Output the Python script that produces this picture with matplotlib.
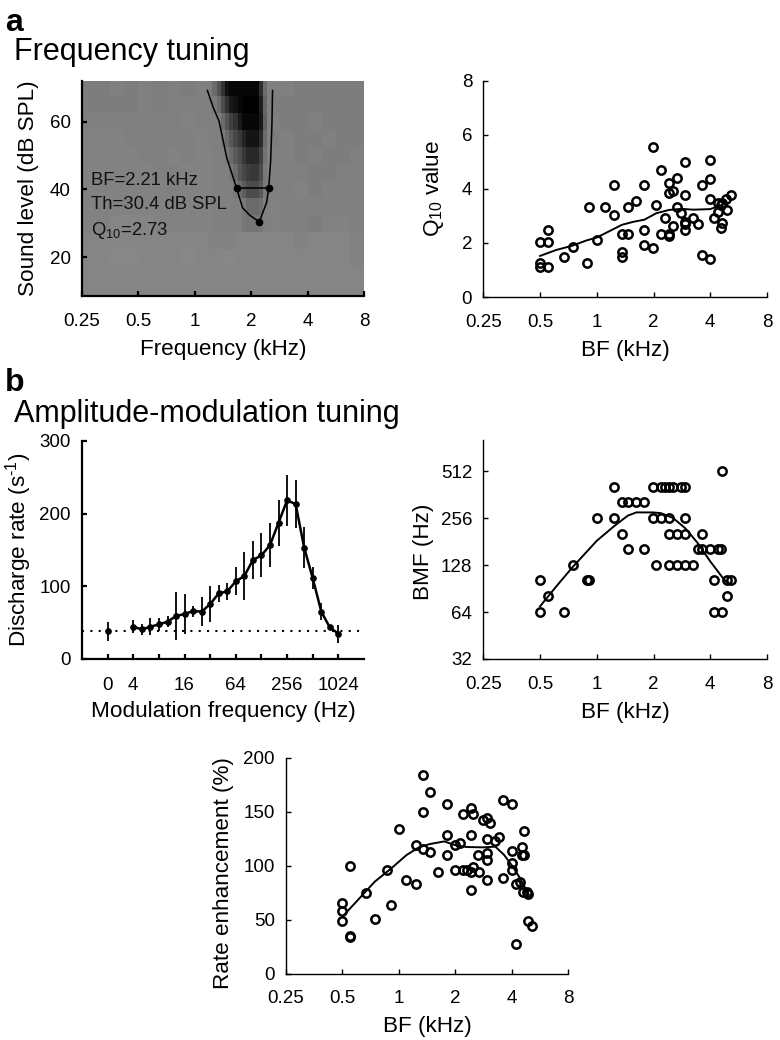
import numpy as np
import matplotlib
matplotlib.use('Agg')
import matplotlib.pyplot as plt

plt.rcParams['font.family'] = ['Liberation Sans', 'DejaVu Sans']
plt.rcParams['mathtext.fontset'] = 'custom'
plt.rcParams['mathtext.rm'] = 'Liberation Sans'
plt.rcParams['mathtext.default'] = 'regular'

# shared axis labels
octave_ticks = [0.25, 0.5, 1, 2, 4, 8]
octave_labels = ['0.25', '0.5', '1', '2', '4', '8']

# a, left: response map, rows from 70 down to 10 dB
level_edges = [72.5, 67.5, 62.5, 57.5, 52.5, 47.5, 42.5, 37.5, 32.5, 27.5, 22.5, 17.5, 12.5, 7.5]
bg_freq_edges = 0.25 * 2 ** (np.arange(21) * 0.25)
background = [
    [.49, .49, .50, .49, .50, .49, .50, .49, .50, .49, .50, .50, .50, .50, .50, .49, .49, .49, .49, .49],
    [.49, .49, .49, .49, .50, .49, .50, .50, .50, .50, .50, .50, .50, .49, .49, .49, .49, .49, .49, .49],
    [.50, .50, .50, .50, .50, .50, .50, .51, .50, .50, .50, .50, .50, .50, .49, .49, .50, .49, .49, .49],
    [.51, .51, .51, .50, .50, .50, .50, .50, .51, .50, .50, .50, .50, .49, .50, .49, .49, .50, .49, .49],
    [.51, .51, .51, .51, .50, .50, .51, .50, .51, .51, .51, .50, .50, .50, .50, .49, .50, .49, .49, .50],
    [.51, .51, .51, .51, .51, .50, .50, .51, .51, .51, .51, .50, .50, .50, .50, .50, .49, .49, .50, .50],
    [.51, .51, .51, .51, .51, .51, .50, .51, .51, .51, .51, .50, .51, .50, .50, .51, .49, .50, .50, .50],
    [.51, .51, .51, .51, .51, .51, .51, .51, .51, .51, .50, .51, .51, .51, .50, .50, .50, .50, .50, .50],
    [.51, .51, .52, .52, .52, .51, .51, .51, .51, .51, .50, .51, .51, .51, .50, .50, .49, .51, .51, .50],
    [.52, .52, .52, .52, .52, .52, .52, .52, .52, .51, .51, .52, .52, .52, .52, .51, .52, .52, .52, .51],
    [.52, .52, .53, .53, .52, .52, .52, .53, .52, .52, .53, .52, .52, .52, .52, .52, .52, .52, .52, .51],
    [.52, .52, .52, .52, .52, .52, .52, .52, .52, .52, .52, .52, .52, .52, .52, .52, .52, .52, .52, .52],
    [.52, .52, .52, .52, .52, .52, .52, .52, .52, .52, .52, .52, .52, .52, .52, .52, .52, .52, .52, .52],
]
# the dark tuned area, finer frequency cells, rows from 70 down to 30 dB
tuned_freq_edges = 1.24 * 2 ** (np.arange(15) * 0.0745)
tuned_levels = [72.5, 67.5, 62.5, 57.5, 52.5, 47.5, 42.5, 37.5, 32.5, 27.5]
tuned = [
    [.42, .32, .20, .07, .03, .03, .03, .03, .03, .03, .03, .18, .42, .50],
    [.48, .42, .30, .20, .10, .07, .03, .00, .00, .00, .00, .12, .40, .50],
    [.50, .50, .42, .33, .25, .20, .10, .03, .03, .03, .03, .10, .38, .50],
    [.50, .50, .48, .42, .35, .28, .22, .14, .08, .08, .08, .17, .42, .50],
    [.50, .50, .50, .48, .42, .35, .30, .22, .16, .16, .16, .25, .45, .50],
    [.50, .50, .50, .50, .47, .42, .33, .28, .24, .22, .22, .30, .47, .50],
    [.50, .50, .50, .50, .50, .47, .42, .36, .30, .30, .30, .35, .48, .50],
    [.50, .50, .50, .50, .50, .50, .50, .47, .42, .42, .42, .44, .50, .50],
    [.50, .50, .50, .50, .50, .50, .50, .47, .46, .46, .46, .47, .50, .50],
]
contour_f = [1.167, 1.256, 1.346, 1.48, 1.67, 1.80, 1.97, 2.21, 2.42, 2.48, 2.54, 2.58, 2.60]
contour_l = [69.2, 64.1, 60.2, 49.4, 40.4, 34.5, 32.3, 30.4, 36.2, 40.4, 48.4, 59.2, 69.2]
q10_f = [1.67, 2.48]
q10_l = [40.4, 40.4]
bf_f = [2.21]
bf_l = [30.4]

# BF of each unit in the Q10 plot
q_bf = [0.5, 0.5, 0.5, 0.552, 0.552, 0.552, 0.672, 0.744, 0.886, 0.911, 1.0, 1.11, 1.23, 1.23, 1.36,
        1.36, 1.36, 1.46, 1.46, 1.62, 1.79, 1.79, 1.79, 1.98, 1.98, 2.07, 2.19, 2.19, 2.30, 2.42,
        2.42, 2.42, 2.42, 2.54, 2.54, 2.68, 2.68, 2.81, 2.95, 2.95, 2.95, 2.95, 2.95, 3.25, 3.43,
        3.60, 3.60, 4.0, 4.0, 4.0, 4.0, 4.2, 4.41, 4.41, 4.54, 4.54, 4.63, 4.63, 4.86, 4.92, 5.14]
q_val = [1.27, 1.10, 2.02, 2.48, 2.02, 1.10, 1.49, 1.86, 1.26, 3.32, 2.09, 3.32, 3.02, 4.15, 2.32,
         1.67, 1.49, 3.32, 2.32, 3.54, 4.15, 2.48, 1.94, 5.53, 1.80, 3.40, 4.69, 2.32, 2.93, 4.23,
         3.84, 2.32, 2.25, 3.93, 2.64, 4.40, 3.32, 3.09, 5.00, 3.77, 2.79, 2.70, 2.48, 2.94, 2.70,
         4.15, 1.57, 5.07, 4.38, 3.62, 1.41, 2.93, 3.47, 3.16, 3.41, 2.56, 3.47, 2.72, 3.62, 3.22, 3.77]
q_line_bf = [0.5, 0.61, 0.744, 0.88, 1.0, 1.17, 1.36, 1.56, 1.79, 2.07, 2.42, 2.81, 3.25, 4.0, 4.63]
q_line = [1.52, 1.74, 1.90, 2.09, 2.20, 2.44, 2.67, 2.78, 2.86, 3.10, 3.22, 3.26, 3.23, 3.25, 3.41]

# b, discharge rate against modulation frequency ("0" is drawn at 2 Hz)
mod_f = [2, 4, 5.04, 6.35, 8, 10.1, 12.7, 16, 20.2, 25.4, 32, 40.3, 50.8, 64, 80.6, 101.6, 128, 161.3,
         203.2, 256, 322.5, 406.4, 512, 645, 812.7, 1024]
rate = [38, 44, 40.4, 44, 47.3, 51, 58.8, 61.6, 65.7, 64.8, 75.3, 90, 92.8, 106.6, 114, 136, 142.4,
        156.6, 187.4, 218.2, 213, 153, 111, 65, 43, 34.5]
rate_err = [13, 8.7, 8, 11.5, 8.5, 7.4, 33, 27.5, 7.6, 20, 25, 11.7, 11.5, 19.3, 32.6, 26.4, 30.3,
            30, 31.5, 35, 33, 28, 15, 11.5, 3, 12.6]
spont_rate = 38.5
mod_ticks = [2, 4, 8, 16, 32, 64, 128, 256, 512, 1024]
mod_labels = ['0', '4', '', '16', '', '64', '', '256', '', '1024']

# BMF plot
bmf_bf = [0.5, 0.672, 4.2, 4.63,
          0.552, 4.92,
          0.5, 0.886, 0.911, 4.2, 4.92, 5.14,
          0.744, 2.07, 2.42, 2.68, 2.95, 3.25,
          1.46, 1.79, 3.43, 3.60, 4.0, 4.41, 4.54,
          1.36, 2.42, 2.68, 2.95, 3.60,
          1.0, 1.23, 1.98, 2.19, 2.42, 2.95,
          1.36, 1.46, 1.62, 1.79,
          1.23, 1.98, 2.19, 2.30, 2.42, 2.54, 2.81, 2.95,
          4.63]
bmf_val = [64, 64, 64, 64,
           81, 81,
           102, 102, 102, 102, 102, 102,
           128, 128, 128, 128, 128, 128,
           161, 161, 161, 161, 161, 161, 161,
           203, 203, 203, 203, 203,
           256, 256, 256, 256, 256, 256,
           323, 323, 323, 323,
           406, 406, 406, 406, 406, 406, 406, 406,
           512]
bmf_line_bf = [0.5, 0.61, 0.744, 1.0, 1.23, 1.46, 1.62, 1.98, 2.19, 2.54, 2.95, 3.43, 4.0, 4.63, 4.97]
bmf_line = [69.6, 93.4, 124, 183, 226, 265, 278, 278, 275, 256, 220, 177, 135, 107, 97]
bmf_ticks = [32, 64, 128, 256, 512]

# rate enhancement plot
enh_bf = [0.5, 0.5, 0.5, 0.552, 0.552, 0.552, 0.672, 0.744, 0.868, 0.911, 1.0, 1.09, 1.23, 1.23, 1.35,
          1.35, 1.35, 1.46, 1.46, 1.62, 1.81, 1.81, 1.81, 2.0, 2.0, 2.12, 2.19, 2.19, 2.30, 2.42,
          2.42, 2.42, 2.42, 2.49, 2.49, 2.64, 2.68, 2.81, 2.95, 2.95, 2.95, 2.95, 2.95, 3.05, 3.25,
          3.43, 3.60, 3.60, 4.0, 4.0, 4.0, 4.0, 4.2, 4.2, 4.41, 4.54, 4.54, 4.58, 4.63, 4.63, 4.86,
          4.90, 4.92, 5.14]
enh_val = [65.7, 57.7, 48.5, 99.7, 35.2, 33.6, 75, 50.6, 96, 63.9, 134.3, 86.7, 118.8, 82.7, 183.6,
           149.7, 115.1, 168.5, 113, 94.4, 157.1, 128.7, 109.6, 118.8, 96.3, 121.3, 147.8, 96.3, 96.3,
           153.4, 128.4, 94.1, 77.2, 147.5, 98.8, 109.6, 94.1, 142, 143.8, 125, 112, 105.6, 86.7, 139.8,
           122.8, 126.5, 160.8, 88.6, 157.1, 113.6, 102.2, 96, 82.7, 27.8, 85.2, 117, 109.6, 75.3,
           132.4, 109.6, 75.3, 48.5, 73.8, 44.4]
enh_line_bf = [0.5, 0.6, 0.744, 0.911, 1.10, 1.28, 1.46, 1.75, 2.0, 2.31, 2.81, 3.28, 3.65, 4.0, 4.41, 4.92]
enh_line = [52.8, 67.6, 85.2, 97.5, 109.9, 117, 120, 122.5, 119, 117.3, 117, 117.6, 109.9, 100.6, 89.2, 73.8]

W, H = 780, 1040
tick_fs = 13.5
label_fs = 16.2
fig = plt.figure(figsize=(W / 100, H / 100), dpi=100)


def make_axes(left, top, right, bottom, lw=1.0):
    ax = fig.add_axes([left / W, 1 - bottom / H, (right - left) / W, (bottom - top) / H])
    ax.spines['top'].set_visible(False)
    ax.spines['right'].set_visible(False)
    ax.spines['left'].set_linewidth(lw)
    ax.spines['bottom'].set_linewidth(lw)
    ax.tick_params(which='major', direction='in', length=3.5, width=lw, labelsize=tick_fs)
    ax.minorticks_off()
    return ax


def bf_axis(ax, xlabel='BF (kHz)'):
    ax.set_xscale('log', base=2)
    ax.set_xlim(0.25, 8)
    ax.set_xticks(octave_ticks)
    ax.set_xticklabels(octave_labels)
    ax.minorticks_off()
    ax.tick_params(axis='x', pad=12)
    ax.tick_params(axis='y', pad=8)
    ax.set_xlabel(xlabel, fontsize=label_fs, labelpad=6.5)


def scatter_panel(ax, x, y, line_x, line_y):
    ax.plot(x, y, 'o', mfc='none', mec='k', mew=1.8, ms=6, ls='none', clip_on=False)
    ax.plot(line_x, line_y, color='k', lw=1.4)


# response map
ax = make_axes(82, 81, 364, 296, lw=1.6)
bf_axis(ax, 'Frequency (kHz)')
ax.pcolormesh(bg_freq_edges, level_edges, background, cmap='gray', vmin=0, vmax=1)
ax.pcolormesh(tuned_freq_edges, tuned_levels, tuned, cmap='gray', vmin=0, vmax=1)
ax.plot(contour_f, contour_l, color='k', lw=1.1)
ax.plot(q10_f, q10_l, color='k', lw=1.1, marker='o', ms=4.5)
ax.plot(bf_f, bf_l, color='k', marker='o', ms=4.5)
ax.set_ylim(8.5, 72)
ax.set_yticks([20, 40, 60])
ax.set_ylabel('Sound level (dB SPL)', fontsize=label_fs)
ax.yaxis.set_label_coords(-0.152, 0.5)
ax.text(0.278, 42.5, 'BF=2.21 kHz', fontsize=13.3, color='#111111', va='center')
ax.text(0.278, 35.6, 'Th=30.4 dB SPL', fontsize=13.3, color='#111111', va='center')
ax.text(0.278, 27.8, 'Q$_{10}$=2.73', fontsize=13.3, color='#111111', va='center')

# Q10
ax = make_axes(483.3, 80.7, 767, 297)
bf_axis(ax)
scatter_panel(ax, q_bf, q_val, q_line_bf, q_line)
ax.set_ylim(0, 8)
ax.set_yticks([0, 2, 4, 6, 8])
ax.set_ylabel('Q$_{10}$ value', fontsize=label_fs)
ax.yaxis.set_label_coords(-0.13, 0.5)

# discharge rate
ax = make_axes(82, 441, 364, 658.7, lw=1.6)
ax.set_xscale('log', base=2)
ax.set_xlim(1, 2048)
ax.set_xticks(mod_ticks)
ax.set_xticklabels(mod_labels)
ax.minorticks_off()
ax.tick_params(axis='x', pad=13)
ax.tick_params(axis='y', pad=8)
ax.set_ylim(0, 300)
ax.set_yticks([0, 100, 200, 300])
ax.axhline(spont_rate, color='k', lw=1.5, ls=(0, (1, 3)))
ax.errorbar(mod_f[:1], rate[:1], yerr=rate_err[:1], color='k', fmt='o', ms=3.8, elinewidth=1.3)
ax.errorbar(mod_f[1:], rate[1:], yerr=rate_err[1:], color='k', fmt='-o', lw=1.8, ms=3.8, elinewidth=1.3)
ax.set_xlabel('Modulation frequency (Hz)', fontsize=label_fs, labelpad=5)
ax.set_ylabel('Discharge rate (s$^{\\text{-}1}$)', fontsize=label_fs)
ax.yaxis.set_label_coords(-0.169, 0.5)

# BMF
ax = make_axes(483.3, 440, 767, 659)
bf_axis(ax)
scatter_panel(ax, bmf_bf, bmf_val, bmf_line_bf, bmf_line)
ax.set_yscale('log', base=2)
ax.set_ylim(32, 809)
ax.set_yticks(bmf_ticks)
ax.set_yticklabels([str(t) for t in bmf_ticks])
ax.minorticks_off()
ax.set_ylabel('BMF (Hz)', fontsize=label_fs)
ax.yaxis.set_label_coords(-0.175, 0.49)

# rate enhancement
ax = make_axes(286, 757.7, 568, 973.7)
bf_axis(ax)
scatter_panel(ax, enh_bf, enh_val, enh_line_bf, enh_line)
ax.set_ylim(0, 200)
ax.set_yticks([0, 50, 100, 150, 200])
ax.set_ylabel('Rate enhancement (%)', fontsize=label_fs)
ax.yaxis.set_label_coords(-0.184, 0.466)

fig.text(5 / W, 1 - 31 / H, 'a', fontsize=23, fontweight='bold', va='baseline')
fig.text(5 / W, 1 - 391 / H, 'b', fontsize=23, fontweight='bold', va='baseline')
fig.text(14 / W, 1 - 60 / H, 'Frequency tuning', fontsize=22, va='baseline')
fig.text(14 / W, 1 - 422 / H, 'Amplitude-modulation tuning', fontsize=22, va='baseline')

fig.savefig('out.png', dpi=100)
